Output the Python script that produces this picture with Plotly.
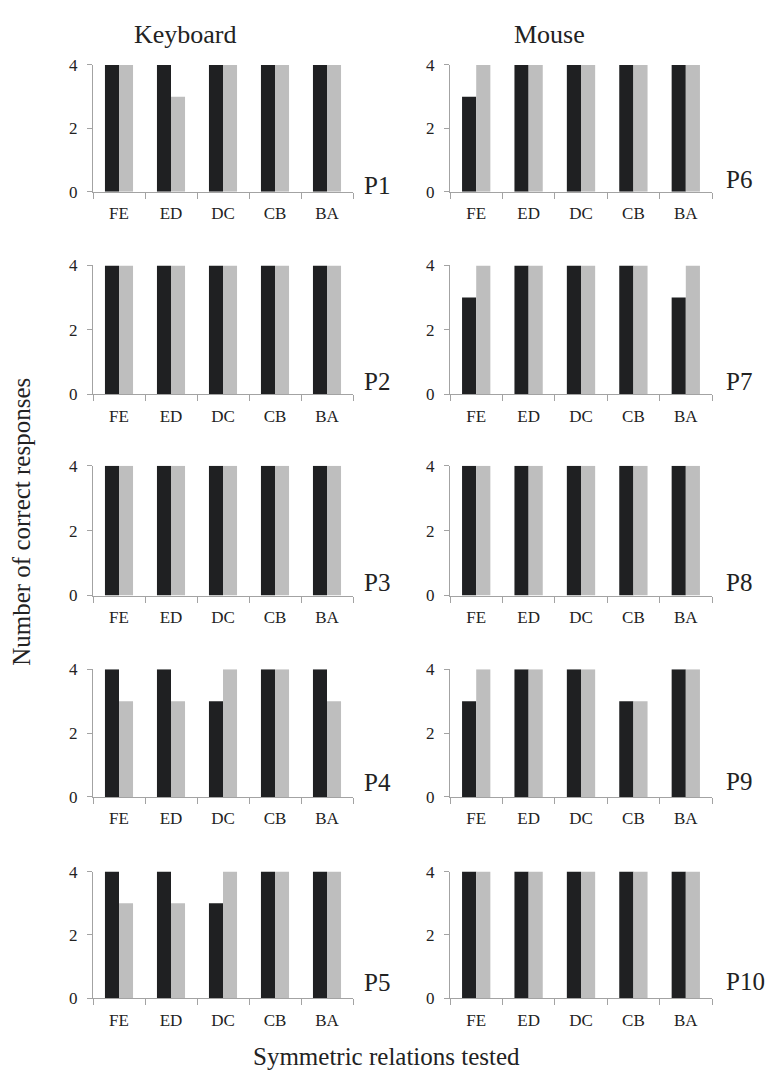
import plotly.graph_objects as go

categories = ["FE", "ED", "DC", "CB", "BA"]
participants = ["P1", "P2", "P3", "P4", "P5", "P6", "P7", "P8", "P9", "P10"]

# black series (first bar) and gray series (second bar) per participant
black_P1 = [4, 4, 4, 4, 4]
gray_P1 = [4, 3, 4, 4, 4]
black_P2 = [4, 4, 4, 4, 4]
gray_P2 = [4, 4, 4, 4, 4]
black_P3 = [4, 4, 4, 4, 4]
gray_P3 = [4, 4, 4, 4, 4]
black_P4 = [4, 4, 3, 4, 4]
gray_P4 = [3, 3, 4, 4, 3]
black_P5 = [4, 4, 3, 4, 4]
gray_P5 = [3, 3, 4, 4, 4]
black_P6 = [3, 4, 4, 4, 4]
gray_P6 = [4, 4, 4, 4, 4]
black_P7 = [3, 4, 4, 4, 3]
gray_P7 = [4, 4, 4, 4, 4]
black_P8 = [4, 4, 4, 4, 4]
gray_P8 = [4, 4, 4, 4, 4]
black_P9 = [3, 4, 4, 3, 4]
gray_P9 = [4, 4, 4, 3, 4]
black_P10 = [4, 4, 4, 4, 4]
gray_P10 = [4, 4, 4, 4, 4]

y_tick_vals = [0, 2, 4]
column_titles = ["Keyboard", "Mouse"]
y_title = "Number of correct responses"
x_title = "Symmetric relations tested"

black_series = [black_P1, black_P2, black_P3, black_P4, black_P5,
                black_P6, black_P7, black_P8, black_P9, black_P10]
gray_series = [gray_P1, gray_P2, gray_P3, gray_P4, gray_P5,
               gray_P6, gray_P7, gray_P8, gray_P9, gray_P10]

# ---- layout geometry (pixels) ----
W, H = 771, 1082
col_px = [(93, 353), (450, 712)]
row_px = [(57, 186), (261, 392), (465, 597), (672, 802), (878, 1007)]
label_x_px = [362, 724]
label_cy_px = [[180, 379, 584, 787, 991], [174, 379, 584, 786, 990]]

FONT = "Liberation Serif"
BLACK = "#1f2022"
GRAY = "#bebebe"
AXIS = "#a3a3a3"
TXT = "#222222"


def px_x(p):
    return p / W


def px_y(p):
    return 1 - p / H


fig = go.Figure()
annotations = []
for i, name in enumerate(participants):
    col = i // 5
    row = i % 5
    k = i + 1
    xa = "x" if k == 1 else f"x{k}"
    ya = "y" if k == 1 else f"y{k}"
    fig.add_trace(go.Bar(x=categories, y=black_series[i], marker_color=BLACK,
                         marker_line_width=0, xaxis=xa, yaxis=ya, showlegend=False,
                         offsetgroup="a"))
    fig.add_trace(go.Bar(x=categories, y=gray_series[i], marker_color=GRAY,
                         marker_line_width=0, xaxis=xa, yaxis=ya, showlegend=False,
                         offsetgroup="b"))
    xd = [px_x(col_px[col][0]), px_x(col_px[col][1])]
    yd = [px_y(row_px[row][1]), px_y(row_px[row][0])]
    xkey = "xaxis" if k == 1 else f"xaxis{k}"
    ykey = "yaxis" if k == 1 else f"yaxis{k}"
    fig.update_layout(**{
        xkey: dict(domain=xd, anchor=ya, type="category", range=[-0.5, 4.5],
                   showline=True, linecolor=AXIS, linewidth=1.3,
                   ticks="outside", tickson="boundaries", ticklen=6,
                   tickcolor=AXIS, tickwidth=1.3, showgrid=False,
                   ticklabelstandoff=6,
                   tickfont=dict(family=FONT, size=17, color=TXT), fixedrange=True),
        ykey: dict(domain=yd, anchor=xa, range=[0, 4], tickvals=y_tick_vals,
                   showline=True, linecolor=AXIS, linewidth=1.3,
                   ticks="outside", ticklen=5, tickcolor=AXIS, tickwidth=1.3,
                   showgrid=False, zeroline=False, ticklabelstandoff=6,
                   tickfont=dict(family=FONT, size=17, color=TXT), fixedrange=True),
    })
    annotations.append(dict(text=name, x=px_x(label_x_px[col]),
                            y=px_y(label_cy_px[col][row]), xref="paper", yref="paper",
                            xanchor="left", yanchor="middle", showarrow=False,
                            font=dict(family=FONT, size=25, color=TXT)))

annotations.append(dict(text=column_titles[0], x=px_x(185), y=px_y(26), xref="paper",
                        yref="paper", xanchor="center", yanchor="middle",
                        showarrow=False, font=dict(family=FONT, size=26, color=TXT)))
annotations.append(dict(text=column_titles[1], x=px_x(549), y=px_y(26), xref="paper",
                        yref="paper", xanchor="center", yanchor="middle",
                        showarrow=False, font=dict(family=FONT, size=26, color=TXT)))
annotations.append(dict(text=y_title, x=px_x(22), y=px_y(522), xref="paper",
                        yref="paper", xanchor="center", yanchor="middle", textangle=-90,
                        showarrow=False, font=dict(family=FONT, size=25, color=TXT)))
annotations.append(dict(text=x_title, x=px_x(386), y=px_y(1066), xref="paper",
                        yref="paper", xanchor="center", yanchor="middle",
                        showarrow=False, font=dict(family=FONT, size=25, color=TXT)))

fig.update_layout(width=W, height=H, margin=dict(l=0, r=0, t=0, b=0),
                  paper_bgcolor="white", plot_bgcolor="white",
                  barmode="group", bargap=0.46, bargroupgap=0,
                  annotations=annotations, showlegend=False)

fig.write_html("out.html", config={"displayModeBar": False},
               post_script="document.body.style.margin='0';document.body.style.overflow='hidden';")
